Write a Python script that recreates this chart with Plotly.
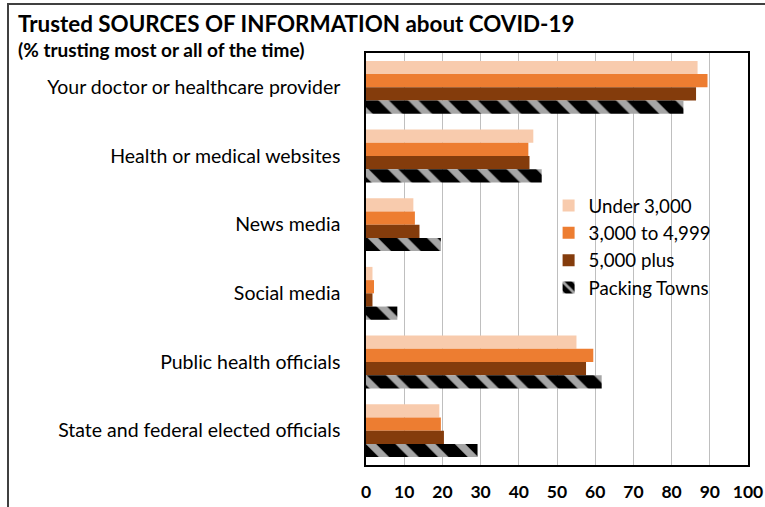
import plotly.graph_objects as go

categories = [
    "Your doctor or healthcare provider",
    "Health or medical websites",
    "News media",
    "Social media",
    "Public health officials",
    "State and federal elected officials",
]
under_3000 = [86.8, 43.8, 12.4, 1.7, 55.1, 19.2]
from_3000_to_4999 = [89.4, 42.5, 12.8, 2.1, 59.5, 19.6]
plus_5000 = [86.4, 42.8, 14.0, 1.7, 57.6, 20.4]
packing_towns = [83.1, 46.0, 19.6, 8.2, 61.7, 29.2]
x_ticks = [0, 10, 20, 30, 40, 50, 60, 70, 80, 90, 100]

FONT = "Lato"

fig = go.Figure()
fig.add_trace(go.Bar(y=categories, x=under_3000, orientation="h", name="Under 3,000",
                     marker=dict(color="#F8CBAD", line=dict(width=0))))
fig.add_trace(go.Bar(y=categories, x=from_3000_to_4999, orientation="h", name="3,000 to 4,999",
                     marker=dict(color="#ED7D31", line=dict(width=0))))
fig.add_trace(go.Bar(y=categories, x=plus_5000, orientation="h", name="5,000 plus",
                     marker=dict(color="#843C0C", line=dict(width=0))))
fig.add_trace(go.Bar(y=categories, x=packing_towns, orientation="h", name="Packing Towns",
                     marker=dict(color="black", line=dict(width=0),
                                 pattern=dict(shape="\\", fgcolor="#a6a6a6", bgcolor="black",
                                              size=21, solidity=0.35, fillmode="replace"))))

fig.update_layout(
    width=765, height=507,
    margin=dict(l=366, r=17, t=53, b=42, autoexpand=False),
    paper_bgcolor="white", plot_bgcolor="white",
    barmode="group", bargap=0.23, bargroupgap=0,
    font=dict(family=FONT, color="black"),
    showlegend=True,
    legend=dict(x=0.478, y=0.675, xanchor="left", yanchor="top",
                font=dict(family=FONT, size=18.7, color="black"),
                bgcolor="rgba(0,0,0,0)", itemwidth=30, tracegroupgap=0),
    xaxis=dict(range=[0, 100], tickvals=x_ticks, ticktext=[str(v) for v in x_ticks],
               showgrid=True, gridcolor="#bfbfbf", gridwidth=1, automargin=False,
               zeroline=False, showline=True, linecolor="black", linewidth=1.5, mirror=True,
               tickfont=dict(family=FONT, size=17.5, color="black", weight="bold"),
               ticks="", ticklabelstandoff=10, fixedrange=True),
    yaxis=dict(autorange="reversed", showgrid=False, showline=True, linecolor="black",
               linewidth=1.5, mirror=True, ticks="", automargin=False,
               tickfont=dict(family=FONT, size=19.5, color="black"),
               ticklabelstandoff=20, fixedrange=True),
    shapes=[dict(type="rect", xref="paper", yref="paper",
                 x0=(8 - 366) / 382, x1=1.2, y0=-0.3, y1=(465 - 4) / 412,
                 line=dict(color="#404040", width=2), fillcolor="rgba(0,0,0,0)", layer="above")],
    annotations=[
        dict(text="<b>Trusted SOURCES OF INFORMATION about COVID-19</b>", xref="paper", yref="paper",
             x=(16 - 366) / 382, y=(465 - 23) / 412, xanchor="left", yanchor="middle",
             showarrow=False, font=dict(family=FONT, size=22.4, color="black")),
        dict(text="<b>(% trusting most or all of the time)</b>", xref="paper", yref="paper",
             x=(16 - 366) / 382, y=(465 - 50) / 412, xanchor="left", yanchor="middle",
             showarrow=False, font=dict(family=FONT, size=19, color="black")),
    ],
)

fig.write_html("out.html", config={"displayModeBar": False},
               post_script="document.body.style.margin='0';document.body.style.overflow='hidden';")
